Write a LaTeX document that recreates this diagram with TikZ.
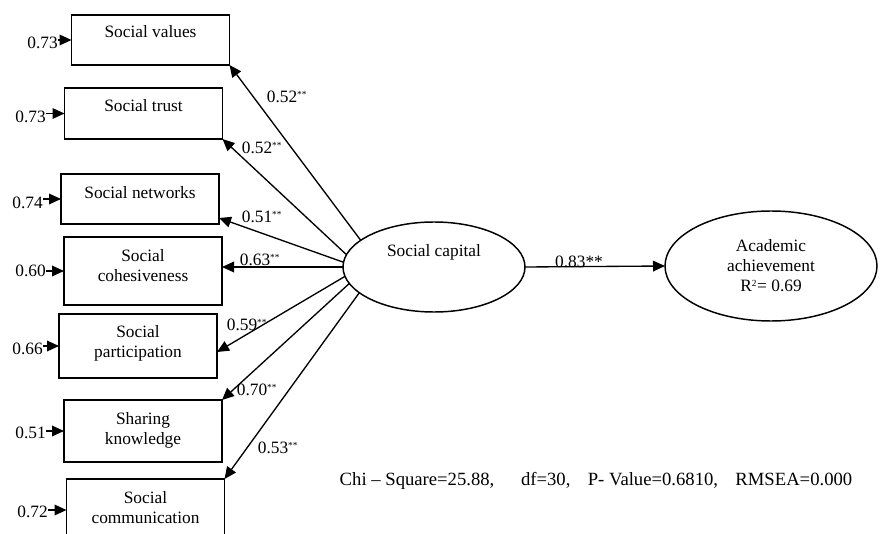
\documentclass[tikz,border=0pt]{standalone}
\usepackage{fontspec}
\setmainfont{Liberation Serif}
\usetikzlibrary{arrows.meta,calc,shapes.geometric}
\begin{document}
\begin{tikzpicture}[x=0.75pt,y=-0.75pt,
  font=\fontsize{13}{15}\selectfont,
  box/.style={draw, line width=1.1pt, inner sep=0pt, outer sep=0pt, minimum width=118.5pt},
  ell/.style={draw, ellipse, line width=1.1pt, inner sep=0pt, outer sep=0pt},
  txt/.style={inner sep=0pt, align=center},
  arr/.style={line width=1pt, -{Triangle[length=9pt,width=8pt]}},
  lbl/.style={inner sep=0pt}]
\useasboundingbox (0,0) rectangle (880,534);
\clip (0,0) rectangle (880,534);
\fill[white] (0,0) rectangle (880,534);

% indicator boxes
\node[box, minimum height=37.5pt] (v) at (150.5,40) {};
\node[box, minimum height=38.25pt] (t) at (143.5,113.5) {};
\node[box, minimum height=37.5pt] (n) at (140,199) {};
\node[box, minimum height=51pt] (c) at (143,271) {};
\node[box, minimum height=48pt] (p) at (138,346) {};
\node[box, minimum height=46.5pt] (s) at (143,431) {};
\node[box, minimum height=46.5pt] (m) at (145.5,510) {};

\node[txt] (vt) at (150.5,32) {Social values};
\node[txt] (tt) at (143.5,106) {Social trust};
\node[txt] (nt) at (140,193) {Social networks};
\node[txt] (ct) at (143,266) {Social\\cohesiveness};
\node[txt] (pt) at (138,343) {Social\\participation};
\node[txt] (st) at (143,430) {Sharing\\knowledge};
\node[txt] (mt) at (145.5,508) {Social\\communication};

% latent variables
\node[ell, minimum width=136.5pt, minimum height=67.5pt] (sc) at (434,267) {};
\node[txt] (sct) at (434,252) {Social capital};
\node[ell, minimum width=159pt, minimum height=82.5pt, align=center] (ac) at (771,266) {Academic\\achievement\\R\textsuperscript{\scriptsize 2}= 0.69};

% error terms
\node[lbl, anchor=east] (e1) at (58,43) {0.73};
\node[lbl, anchor=east] (e2) at (46,117) {0.73};
\node[lbl, anchor=east] (e3) at (43,203) {0.74};
\node[lbl, anchor=east] (e4) at (46,271) {0.60};
\node[lbl, anchor=east] (e5) at (43,349) {0.66};
\node[lbl, anchor=east] (e6) at (46,433) {0.51};
\node[lbl, anchor=east] (e7) at (48,512) {0.72};
\draw[arr] (e1.east |- v.west) -- (v.west);
\draw[arr] (e2.east |- t.west) -- (t.west);
\draw[arr] (e3.east |- n.west) -- (n.west);
\draw[arr] (e4.east |- c.west) -- (c.west);
\draw[arr] (e5.east |- p.west) -- (p.west);
\draw[arr] (e6.east |- s.west) -- (s.west);
\draw[arr] (e7.east |- m.west) -- (m.west);

% loadings
\draw[arr] (sc.160) -- (v.south east);
\draw[arr] (sc.172) -- (t.south east);
\draw[arr] (sc.177) -- ($(n.south east)+(0,-6)$);
\draw[arr] (sc.west) -- (sc.west -| c.east);
\draw[arr] (sc.186) -- ($(p.east)+(0,6)$);
\draw[arr] (sc.191) -- (s.north east);
\draw[arr] (sc.199) -- (m.north east);

\node[lbl] (l1) at (287,97) {0.52\textsuperscript{\scriptsize**}};
\node[lbl] (l2) at (262,148) {0.52\textsuperscript{\scriptsize**}};
\node[lbl] (l3) at (262,217) {0.51\textsuperscript{\scriptsize**}};
\node[lbl] (l4) at (260,260) {0.63\textsuperscript{\scriptsize**}};
\node[lbl] (l5) at (247,325) {0.59\textsuperscript{\scriptsize**}};
\node[lbl] (l6) at (257,390) {0.70\textsuperscript{\scriptsize**}};
\node[lbl] (l7) at (278,448) {0.53\textsuperscript{\scriptsize**}};

% structural path
\draw[arr] (sc.east) -- (ac.west);
\node[lbl] (l8) at (579,262) {0.83**};

% fit statistics
\node[lbl, font=\fontsize{14}{16}\selectfont] (fit) at (596,481) {Chi -- Square=25.88,\hspace{20pt}df=30,\hspace{13pt}P- Value=0.6810,\hspace{13pt}RMSEA=0.000};
\end{tikzpicture}
\end{document}
